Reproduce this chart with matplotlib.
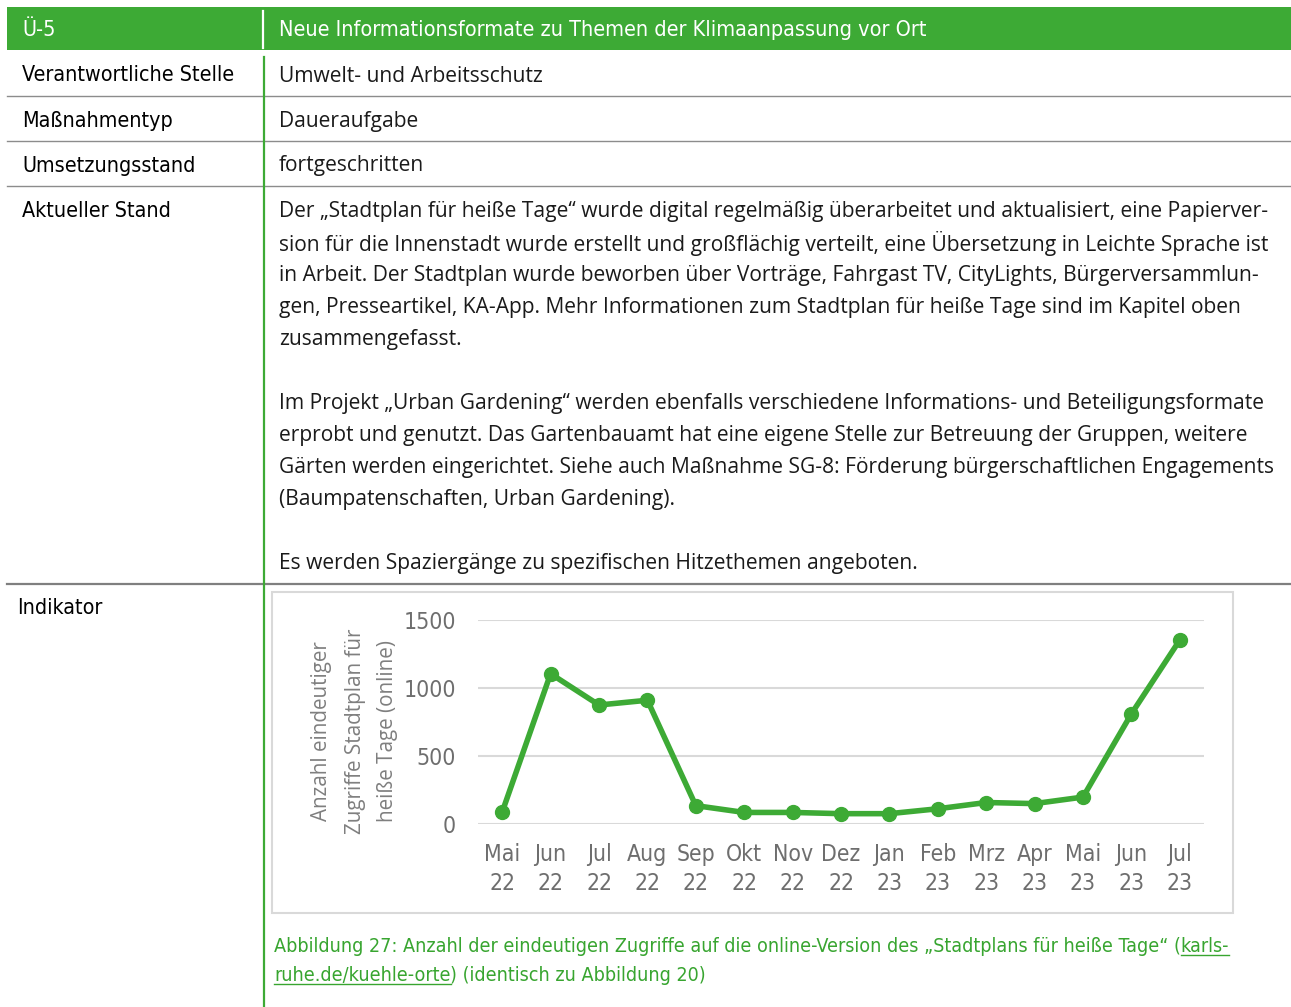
import matplotlib
matplotlib.use("Agg")
import matplotlib.pyplot as plt
from matplotlib.patches import Rectangle

# chart data
months = ["Mai\n22", "Jun\n22", "Jul\n22", "Aug\n22", "Sep\n22", "Okt\n22", "Nov\n22",
          "Dez\n22", "Jan\n23", "Feb\n23", "Mrz\n23", "Apr\n23", "Mai\n23", "Jun\n23", "Jul\n23"]
zugriffe = [88, 1105, 875, 910, 135, 85, 85, 76, 76, 112, 158, 150, 198, 810, 1353]
y_ticks = [0, 500, 1000, 1500]

# table text
header_left = "Ü-5"
header_right = "Neue Informationsformate zu Themen der Klimaanpassung vor Ort"
row_labels = ["Verantwortliche Stelle", "Maßnahmentyp", "Umsetzungsstand", "Aktueller Stand", "Indikator"]
row_values = ["Umwelt- und Arbeitsschutz", "Daueraufgabe", "fortgeschritten"]
stand_lines = [
    "Der „Stadtplan für heiße Tage“ wurde digital regelmäßig überarbeitet und aktualisiert, eine Papierver-",
    "sion für die Innenstadt wurde erstellt und großflächig verteilt, eine Übersetzung in Leichte Sprache ist",
    "in Arbeit. Der Stadtplan wurde beworben über Vorträge, Fahrgast TV, CityLights, Bürgerversammlun-",
    "gen, Presseartikel, KA-App. Mehr Informationen zum Stadtplan für heiße Tage sind im Kapitel oben",
    "zusammengefasst.",
    "",
    "Im Projekt „Urban Gardening“ werden ebenfalls verschiedene Informations- und Beteiligungsformate",
    "erprobt und genutzt. Das Gartenbauamt hat eine eigene Stelle zur Betreuung der Gruppen, weitere",
    "Gärten werden eingerichtet. Siehe auch Maßnahme SG-8: Förderung bürgerschaftlichen Engagements",
    "(Baumpatenschaften, Urban Gardening).",
    "",
    "Es werden Spaziergänge zu spezifischen Hitzethemen angeboten.",
]
ylabel_lines = ["Anzahl eindeutiger", "Zugriffe Stadtplan für", "heiße Tage (online)"]

GREEN = "#3DAA35"
NARROW = dict(family="DejaVu Sans", fontstretch="condensed")
BODY = ["Open Sans", "DejaVu Sans"]

W, H = 1291, 1007
fig = plt.figure(figsize=(W / 100, H / 100), dpi=100)

# background axes in pixel coordinates
bg = fig.add_axes([0, 0, 1, 1])
bg.set_xlim(0, W)
bg.set_ylim(H, 0)
bg.axis("off")

# header bar
bg.add_patch(Rectangle((7, 7), W - 7, 43, color=GREEN, lw=0))
bg.plot([263, 263], [11, 48], color="white", lw=1.6)
bg.text(22, 30, header_left, color="white", fontsize=15.5, va="center", **NARROW)
bg.text(279, 30, header_right, color="white", fontsize=15.5, va="center", **NARROW)

# row separators
for y in [96, 141, 186]:
    bg.plot([7, W], [y, y], color="#8C8C8C", lw=1.0)
bg.plot([7, W], [584, 584], color="#7F7F7F", lw=1.6)

# green column divider
bg.plot([264, 264], [57, H], color=GREEN, lw=1.6)

# row labels and values
for lab, y in zip(row_labels, [75, 121, 166, 211, 608]):
    x = 17 if lab == "Indikator" else 22
    bg.text(x, y, lab, color="black", fontsize=15.4, va="center", **NARROW)
for val, y in zip(row_values, [76, 121, 166]):
    bg.text(279, y, val, color="#1A1A1A", fontsize=15.1, family=BODY, va="center")
for i, line in enumerate(stand_lines):
    bg.text(279, 211 + 32 * i, line, color="#1A1A1A", fontsize=15.1, family=BODY, va="center")

# chart frame
bg.add_patch(Rectangle((272, 592), 961, 321, fill=False, edgecolor="#D9D9D9", lw=1.5))

# y axis title (three rotated lines)
for line, x in zip(ylabel_lines, [322, 355, 388]):
    bg.text(x, 731, line, color="#7F7F7F", fontsize=14.9, family=BODY,
            rotation=90, ha="center", va="center")

# line chart
ax = fig.add_axes([478 / W, (H - 824) / H, (1204 - 478) / W, 204 / H])
ax.plot(range(len(zugriffe)), zugriffe, color=GREEN, lw=4.0, marker="o", ms=10,
        solid_capstyle="round", zorder=3)
ax.set_xlim(-0.5, len(zugriffe) - 0.5)
ax.set_ylim(0, 1500)
ax.set_yticks(y_ticks)
ax.set_xticks(range(len(months)))
ax.set_xticklabels(months, linespacing=1.3)
ax.grid(axis="y", color="#D9D9D9", lw=1.5)
ax.set_axisbelow(True)
for s in ax.spines.values():
    s.set_visible(False)
ax.tick_params(length=0, colors="#6E6E6E", labelsize=16.5)
ax.tick_params(axis="x", pad=14)
ax.tick_params(axis="y", pad=16)
for t in ax.get_xticklabels() + ax.get_yticklabels():
    t.set_family("DejaVu Sans")
    t.set_fontstretch("condensed")
ax.patch.set_alpha(0)

# caption with underlined link parts
renderer = fig.canvas.get_renderer()


def put_segments(x, y, segments):
    for txt, underline in segments:
        t = bg.text(x, y, txt, color="#38A530", fontsize=14.1, va="baseline", **NARROW)
        bb = t.get_window_extent(renderer=renderer)
        w = bb.width
        if underline:
            bg.plot([x, x + w], [y + 3, y + 3], color="#38A530", lw=1.0)
        x += w


put_segments(274, 952, [("Abbildung 27: Anzahl der eindeutigen Zugriffe auf die online-Version des „Stadtplans für heiße Tage“ (", False),
                        ("karls-", True)])
put_segments(274, 981, [("ruhe.de/kuehle-orte", True), (") (identisch zu Abbildung 20)", False)])

fig.savefig("out.png", dpi=100)
